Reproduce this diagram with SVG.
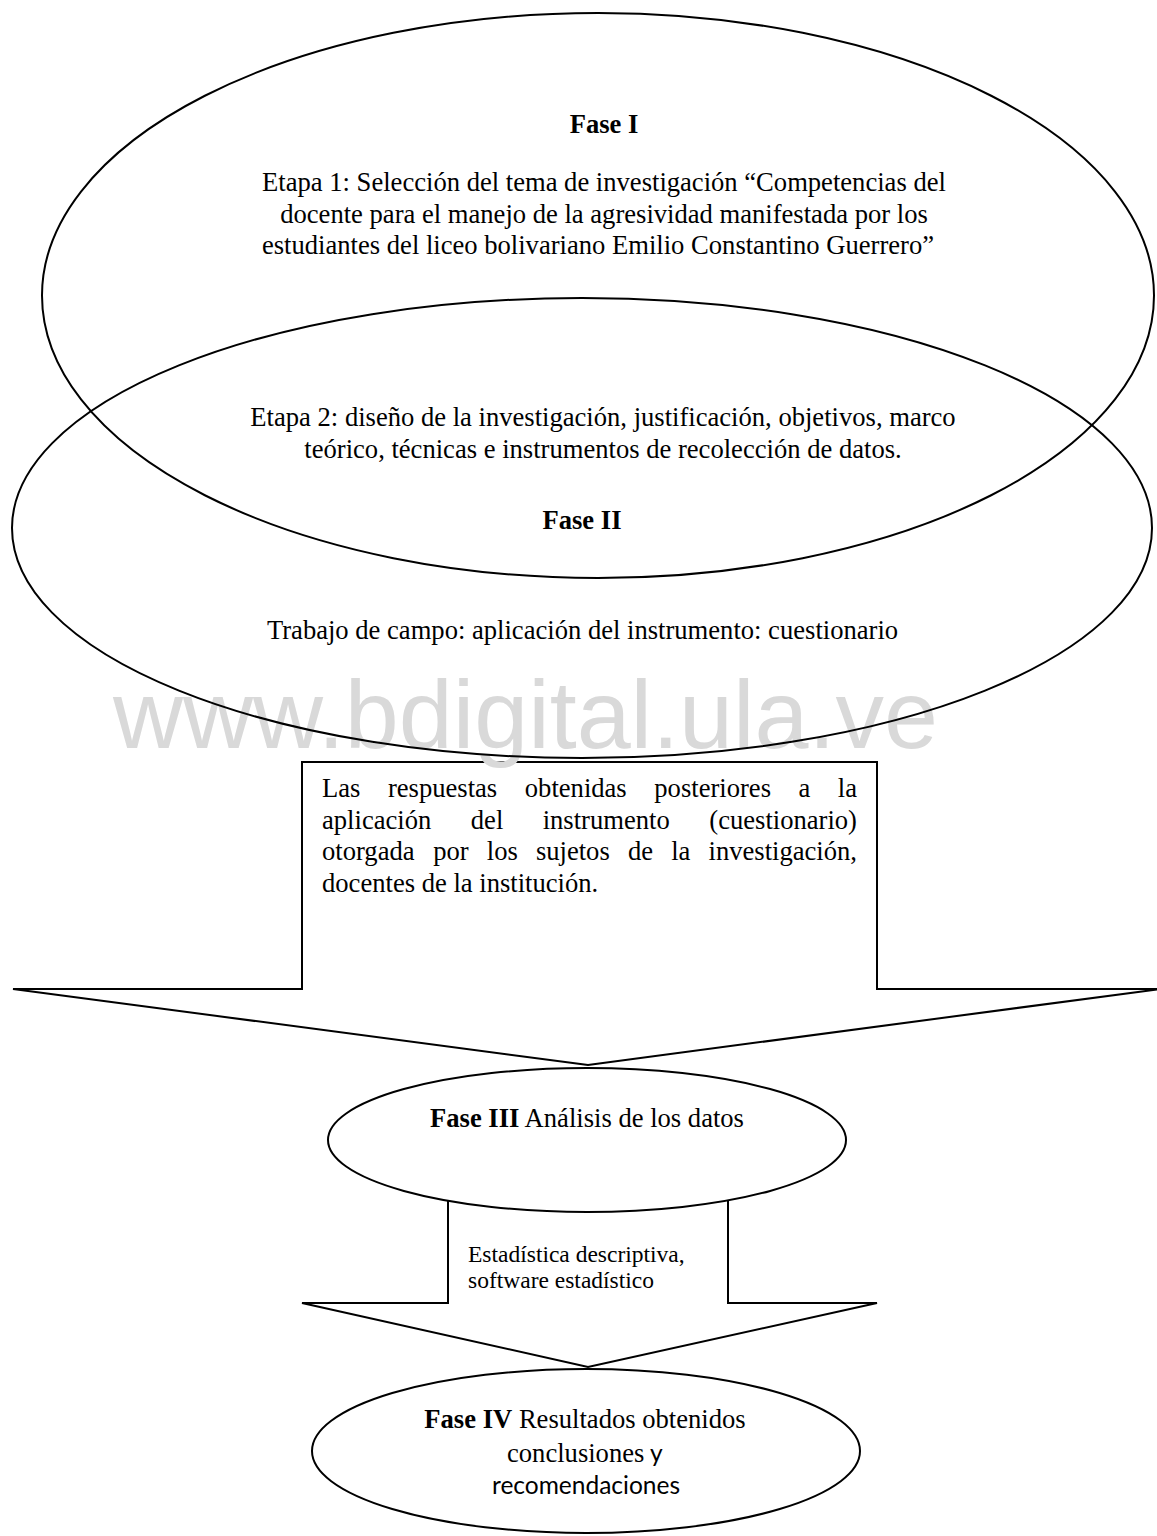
<svg xmlns="http://www.w3.org/2000/svg" width="1157" height="1536" viewBox="0 0 1157 1536">
<style>
.shape{fill:none;stroke:#000;stroke-width:2}
.filled{fill:#fff;stroke:#000;stroke-width:2}
.t{font-family:"Liberation Serif","Times New Roman",serif;font-size:26.6px;fill:#000}
.c{text-anchor:middle}
.b{font-weight:bold}
.s{font-family:Lato,"Open Sans",sans-serif;font-size:24.5px;fill:#000}
.sm{font-family:"Liberation Serif","Times New Roman",serif;font-size:23.5px;fill:#000}
.wm{font-family:"Liberation Sans",Arial,sans-serif;font-size:97px;fill:#d9d9d9}
</style>
<rect width="1157" height="1536" fill="#fff"/>
<g id="connectors">
<path id="arrow1" class="filled" d="M302,762 L877,762 L877,989 L1160,989 L588,1065 L13,989 L302,989 Z"/>
<path id="arrow2" class="filled" d="M448,1150 L728,1150 L728,1303 L877,1303 L588,1367 L302,1303 L448,1303 Z"/>
</g>
<text class="wm" x="113" y="748">www.bdigital.ula.ve</text>
<g id="fase1">
<ellipse class="shape" cx="598" cy="295.5" rx="556" ry="282.5"/>
<text class="t c b" x="604" y="133">Fase I</text>
<text class="t c" x="604" y="191">Etapa 1: Selección del tema de investigación “Competencias del</text>
<text class="t c" x="604" y="222.5">docente para el manejo de la agresividad manifestada por los</text>
<text class="t c" x="598" y="254">estudiantes del liceo bolivariano Emilio Constantino Guerrero”</text>
</g>
<g id="fase2">
<ellipse class="shape" cx="582" cy="528" rx="570" ry="230"/>
<text class="t c" x="603" y="426">Etapa 2: diseño de la investigación, justificación, objetivos, marco</text>
<text class="t c" x="603" y="457.5">teórico, técnicas e instrumentos de recolección de datos.</text>
<text class="t c b" x="582" y="529">Fase II</text>
<text class="t c" x="582.5" y="639">Trabajo de campo: aplicación del instrumento: cuestionario</text>
</g>
<g id="respuestas">
<text class="t" y="797"><tspan x="322">Las</tspan><tspan x="387.9">respuestas</tspan><tspan x="524.8">obtenidas</tspan><tspan x="654.3">posteriores</tspan><tspan x="798.5">a</tspan><tspan x="837.8">la</tspan></text>
<text class="t" y="828.5"><tspan x="322">aplicación</tspan><tspan x="470.8">del</tspan><tspan x="542.7">instrumento</tspan><tspan x="709.3">(cuestionario)</tspan></text>
<text class="t" y="860"><tspan x="322">otorgada</tspan><tspan x="433.2">por</tspan><tspan x="486.8">los</tspan><tspan x="535.9">sujetos</tspan><tspan x="627.9">de</tspan><tspan x="671.2">la</tspan><tspan x="708.5">investigación,</tspan></text>
<text class="t" x="322" y="891.5">docentes de la institución.</text>
</g>
<g id="fase3">
<ellipse class="filled" cx="587" cy="1140" rx="259" ry="72"/>
<text class="t c" x="587" y="1127"><tspan class="b">Fase III</tspan> Análisis de los datos</text>
</g>
<g id="estadistica">
<text class="sm" x="468" y="1262">Estadística descriptiva,</text>
<text class="sm" x="468" y="1288">software estadístico</text>
</g>
<g id="fase4">
<ellipse class="shape" cx="586" cy="1451" rx="274" ry="82"/>
<text class="t c" x="585" y="1428"><tspan class="b">Fase IV</tspan> Resultados obtenidos</text>
<text class="t" x="507" y="1462">conclusiones<tspan class="s"> y</tspan></text>
<text class="s c" x="586" y="1494">recomendaciones</text>
</g>
</svg>
